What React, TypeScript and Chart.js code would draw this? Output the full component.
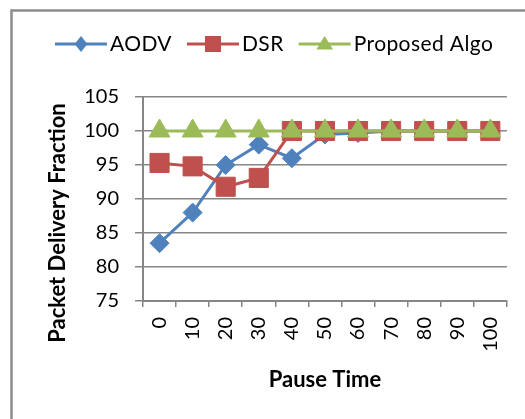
import React, { useEffect, useRef } from 'react';
import { Chart, registerables } from 'chart.js';

Chart.register(...registerables);

const pauseTimes = ['0', '10', '20', '30', '40', '50', '60', '70', '80', '90', '100'];
const aodv = [83.5, 88, 95, 98, 96, 99.5, 99.7, 100, 100, 100, 100];
const dsr = [95.3, 94.8, 91.8, 93.1, 100, 100, 100, 100, 100, 100, 100];
const proposed = [100, 100, 100, 100, 100, 100, 100, 100, 100, 100, 100];
const seriesNames = ['AODV', 'DSR', 'Proposed Algo'];
const yMin = 75;
const yMax = 105;
const yStep = 5;
const xTitle = 'Pause Time';
const yTitle = 'Packet Delivery Fraction';

const colors = ['#4F81BD', '#C0504D', '#9BBB59'];
const markers = ['rectRot', 'rect', 'triangle'];
const FONT = 'Lato';

function drawMarker(ctx: CanvasRenderingContext2D, style: string, x: number, y: number, r: number) {
  ctx.beginPath();
  if (style === 'rectRot') {
    ctx.moveTo(x - r * 0.8, y);
    ctx.lineTo(x, y - r);
    ctx.lineTo(x + r * 0.8, y);
    ctx.lineTo(x, y + r);
  } else if (style === 'rect') {
    ctx.rect(x - r, y - r, 2 * r, 2 * r);
  } else {
    ctx.moveTo(x, y - r);
    ctx.lineTo(x + r * 1.05, y + r * 0.7);
    ctx.lineTo(x - r * 1.05, y + r * 0.7);
  }
  ctx.closePath();
  ctx.fill();
}

const decorPlugin = {
  id: 'decor',
  afterDraw(chart: any) {
    const ctx: CanvasRenderingContext2D = chart.ctx;
    ctx.save();
    // outer frame (top and left edges)
    ctx.strokeStyle = '#8c8c8c';
    ctx.lineWidth = 2.5;
    ctx.beginPath();
    ctx.moveTo(11.5, 419);
    ctx.lineTo(11.5, 10.5);
    ctx.lineTo(525, 10.5);
    ctx.stroke();

    // legend
    ctx.font = `21px ${FONT}`;
    (ctx as any).letterSpacing = '0.4px';
    ctx.textBaseline = 'middle';
    ctx.textAlign = 'left';
    const ly = 44;
    let lx = 55;
    const lineLen = 52;
    chart.data.datasets.forEach((ds: any, i: number) => {
      ctx.strokeStyle = ds.borderColor;
      ctx.lineWidth = 3;
      ctx.beginPath();
      ctx.moveTo(lx, ly);
      ctx.lineTo(lx + lineLen, ly);
      ctx.stroke();
      ctx.fillStyle = ds.borderColor;
      drawMarker(ctx, markers[i], lx + lineLen / 2, ly, 8);
      ctx.fillStyle = '#000';
      const tx = lx + lineLen + 3;
      ctx.fillText(ds.label, tx, ly);
      lx = tx + ctx.measureText(ds.label).width + 15;
    });
    (ctx as any).letterSpacing = '0px';

    // y axis title
    ctx.translate(58, 223);
    ctx.rotate(-Math.PI / 2);
    ctx.font = `bold 22px ${FONT}`;
    ctx.textAlign = 'center';
    ctx.fillStyle = '#000';
    ctx.fillText(yTitle, 0, 0);
    ctx.restore();
  },
};

export default function App() {
  const ref = useRef<HTMLCanvasElement>(null);
  useEffect(() => {
    document.body.style.margin = '0';
    Chart.defaults.font.family = FONT;
    const series = [aodv, dsr, proposed];
    const chart = new Chart(ref.current!, {
      type: 'line',
      data: {
        labels: pauseTimes,
        datasets: series.map((d, i) => ({
          label: seriesNames[i],
          data: d,
          borderColor: colors[i],
          backgroundColor: colors[i],
          pointBackgroundColor: colors[i],
          pointBorderColor: colors[i],
          pointBorderWidth: 1,
          borderWidth: 3,
          pointStyle: markers[i],
          pointRadius: i === 0 ? 9.5 : i === 1 ? 13.5 : 12,
          tension: 0,
          order: 3 - i,
        })),
      },
      options: {
        responsive: false,
        animation: false,
        devicePixelRatio: 1,
        layout: { padding: { top: 97, right: 13, left: 0, bottom: 0 } },
        plugins: {
          legend: { display: false },
          tooltip: { enabled: false },
        },
        scales: {
          x: {
            offset: true,
            grid: { offset: true, drawOnChartArea: false, drawTicks: true, tickLength: 6, color: '#868686', lineWidth: 1.5 },
            border: { color: '#868686', width: 2 },
            ticks: { minRotation: 90, maxRotation: 90, autoSkip: false, padding: 10, color: '#000', font: { size: 20 } },
            title: { display: true, text: xTitle, color: '#000', font: { size: 22, weight: 'bold' }, padding: { top: 0, bottom: 26 } },
            afterFit: (s: any) => { s.height = 118; },
          },
          y: {
            min: yMin,
            max: yMax,
            ticks: { stepSize: yStep, padding: 16, color: '#000', font: { size: 20 } },
            grid: { color: '#868686', lineWidth: 1.5, tickLength: 8 },
            border: { color: '#868686', width: 2 },
            afterFit: (s: any) => { s.width = 143; },
          },
        },
      } as any,
      plugins: [decorPlugin],
    });
    return () => chart.destroy();
  }, []);
  return <canvas ref={ref} width={525} height={419} style={{ display: 'block' }} />;
}
